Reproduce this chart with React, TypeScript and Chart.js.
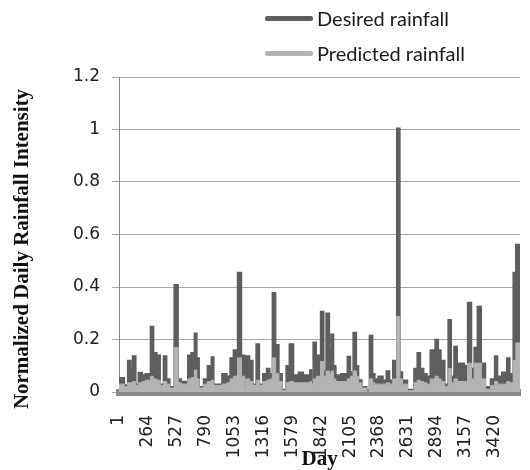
import React, { useEffect, useRef } from "react";
import { Chart, registerables } from "chart.js";

Chart.register(...registerables);

// Start day of each step segment; each value holds until the next start day.
const days = [
  1, 50, 80, 109, 124, 154, 177, 213, 242, 287, 316, 346, 376, 405, 435, 464,
  503, 539, 568, 627, 657, 687, 710, 731, 770, 805, 841, 864, 938, 983, 1012,
  1042, 1080, 1116, 1146, 1155, 1190, 1220, 1249, 1279, 1309, 1344, 1374, 1397,
  1427, 1457, 1486, 1522, 1551, 1590, 1634, 1679, 1738, 1753, 1768, 1797, 1836,
  1865, 1886, 1916, 1931, 1954, 1975, 2019, 2079, 2108, 2132, 2162, 2182, 2212,
  2256, 2280, 2310, 2330, 2360, 2404, 2434, 2464, 2493, 2529, 2558, 2582, 2627,
  2686, 2715, 2745, 2775, 2804, 2834, 2878, 2908, 2932, 2967, 2997, 3026, 3050,
  3080, 3145, 3174, 3210, 3234, 3263, 3299, 3337, 3382, 3420, 3447, 3485, 3530,
  3559, 3589, 3613, 3652,
];

const desiredRainfall = [
  0.054, 0.027, 0.12, 0.09, 0.137, 0.03, 0.074, 0.065, 0.07, 0.25, 0.15, 0.14,
  0.03, 0.137, 0.05, 0.02, 0.409, 0.05, 0.04, 0.14, 0.15, 0.224, 0.13, 0.02,
  0.05, 0.1, 0.133, 0.03, 0.07, 0.06, 0.13, 0.16, 0.455, 0.14, 0.01, 0.137,
  0.12, 0.03, 0.183, 0.03, 0.07, 0.09, 0.07, 0.378, 0.18, 0.07, 0.01, 0.1,
  0.183, 0.065, 0.075, 0.065, 0.084, 0.045, 0.19, 0.14, 0.307, 0.08, 0.3, 0.16,
  0.22, 0.1, 0.065, 0.07, 0.135, 0.076, 0.227, 0.1, 0.046, 0.02, 0.0, 0.215,
  0.07, 0.05, 0.06, 0.045, 0.08, 0.045, 0.12, 1.005, 0.076, 0.045, 0.01, 0.09,
  0.15, 0.09, 0.07, 0.06, 0.16, 0.2, 0.16, 0.12, 0.03, 0.275, 0.06, 0.173, 0.11,
  0.1, 0.341, 0.09, 0.17, 0.326, 0.11, 0.02, 0.05, 0.137, 0.06, 0.075, 0.13,
  0.07, 0.455, 0.562, 0.562,
];

const predictedRainfall = [
  0.03, 0.02, 0.035, 0.035, 0.04, 0.025, 0.035, 0.04, 0.045, 0.06, 0.05, 0.045,
  0.025, 0.04, 0.03, 0.015, 0.17, 0.035, 0.03, 0.05, 0.055, 0.084, 0.05, 0.015,
  0.03, 0.04, 0.045, 0.025, 0.03, 0.035, 0.05, 0.06, 0.13, 0.06, 0.01, 0.05,
  0.04, 0.025, 0.045, 0.025, 0.04, 0.045, 0.05, 0.13, 0.07, 0.04, 0.005, 0.035,
  0.04, 0.035, 0.035, 0.035, 0.04, 0.03, 0.05, 0.06, 0.116, 0.06, 0.08, 0.07,
  0.08, 0.05, 0.04, 0.04, 0.05, 0.06, 0.08, 0.06, 0.035, 0.015, 0.0, 0.05,
  0.035, 0.03, 0.03, 0.03, 0.035, 0.03, 0.05, 0.288, 0.05, 0.03, 0.005, 0.035,
  0.045, 0.04, 0.035, 0.03, 0.05, 0.06, 0.05, 0.04, 0.02, 0.09, 0.035, 0.05,
  0.04, 0.04, 0.11, 0.05, 0.11, 0.11, 0.05, 0.01, 0.025, 0.04, 0.03, 0.03, 0.04,
  0.035, 0.12, 0.187, 0.187,
];

const dayTicks = [1, 264, 527, 790, 1053, 1316, 1579, 1842, 2105, 2368, 2631, 2894, 3157, 3420];
const intensityTicks = [0, 0.2, 0.4, 0.6, 0.8, 1, 1.2];

const DARK = "#5e5e5e";
const LIGHT = "#b3b3b3";
const Y_TITLE = "Normalized Daily Rainfall Intensity";

// Vertical axis title, centred beside the plot.
const yTitlePlugin = {
  id: "yTitle",
  afterDraw(chart: Chart) {
    const ctx = chart.ctx;
    ctx.save();
    ctx.translate(23, 249);
    ctx.rotate(-Math.PI / 2);
    ctx.font = "bold 21px 'Liberation Serif', 'Times New Roman', serif";
    ctx.fillStyle = "#111111";
    ctx.textAlign = "center";
    ctx.textBaseline = "middle";
    ctx.fillText(Y_TITLE, 0, 0);
    ctx.restore();
  },
};

const legendItems = [
  { label: "Desired rainfall", color: DARK, top: 3 },
  { label: "Predicted rainfall", color: LIGHT, top: 38 },
];

const tickFont = { family: "'DejaVu Sans'", size: 17 };

export default function App() {
  const canvasRef = useRef<HTMLCanvasElement>(null);

  useEffect(() => {
    const toPoints = (values: number[]) => days.map((d, i) => ({ x: d, y: values[i] }));
    const chart = new Chart(canvasRef.current as HTMLCanvasElement, {
      type: "line",
      data: {
        datasets: [
          {
            label: "Desired rainfall",
            data: toPoints(desiredRainfall),
            borderColor: DARK,
            backgroundColor: DARK,
            borderWidth: 1.5,
            fill: "origin",
            stepped: true,
            pointRadius: 0,
            order: 2,
          },
          {
            label: "Predicted rainfall",
            data: toPoints(predictedRainfall),
            borderColor: LIGHT,
            backgroundColor: LIGHT,
            borderWidth: 1,
            fill: "origin",
            stepped: true,
            pointRadius: 0,
            order: 1,
          },
        ],
      },
      options: {
        responsive: false,
        animation: false,
        layout: { padding: { top: 77, left: 0, right: 0, bottom: 0 } },
        plugins: {
          legend: { display: false },
          tooltip: { enabled: false },
        },
        scales: {
          x: {
            type: "linear",
            min: 1,
            max: 3652,
            afterBuildTicks: (scale: any) => {
              scale.ticks = dayTicks.map((v) => ({ value: v }));
            },
            afterFit: (scale: any) => {
              scale.height = 78;
            },
            grid: { display: false },
            border: { display: true, color: "#8c8c8c", width: 7 },
            ticks: {
              autoSkip: false,
              minRotation: 90,
              maxRotation: 90,
              padding: 15,
              color: "#222222",
              font: tickFont,
              callback: (v: any) => String(v),
            },
            title: {
              display: true,
              text: "Day",
              color: "#111111",
              padding: 0,
              font: { family: "'Liberation Serif'", size: 21, weight: "bold", lineHeight: 1 },
            },
          },
          y: {
            type: "linear",
            min: 0,
            max: 1.2,
            afterBuildTicks: (scale: any) => {
              scale.ticks = intensityTicks.map((v) => ({ value: v }));
            },
            afterFit: (scale: any) => {
              scale.width = 119;
            },
            grid: { color: "#a8a8a8", lineWidth: 1, tickLength: 7, tickColor: "#a8a8a8" },
            border: { color: "#868686", width: 1 },
            ticks: {
              padding: 12,
              color: "#222222",
              font: tickFont,
              callback: (v: any) => String(Math.round(Number(v) * 10) / 10),
            },
          },
        },
      },
      plugins: [yTitlePlugin],
    });
    return () => chart.destroy();
  }, []);

  return (
    <div style={{ position: "absolute", left: 0, top: 0, width: 530, height: 470, background: "#ffffff" }}>
      <canvas ref={canvasRef} width={530} height={470} style={{ position: "absolute", left: 0, top: 0 }} />
      {legendItems.map((item) => (
        <div
          key={item.label}
          style={{
            position: "absolute",
            left: 265,
            top: item.top,
            height: 30,
            display: "flex",
            alignItems: "center",
            fontFamily: "Lato, 'Open Sans', sans-serif",
            fontSize: 20,
            color: "#1a1a1a",
            whiteSpace: "nowrap",
          }}
        >
          <span style={{ display: "inline-block", width: 48, height: 5, background: item.color, borderRadius: 2 }} />
          <span style={{ marginLeft: 4 }}>{item.label}</span>
        </div>
      ))}
    </div>
  );
}
